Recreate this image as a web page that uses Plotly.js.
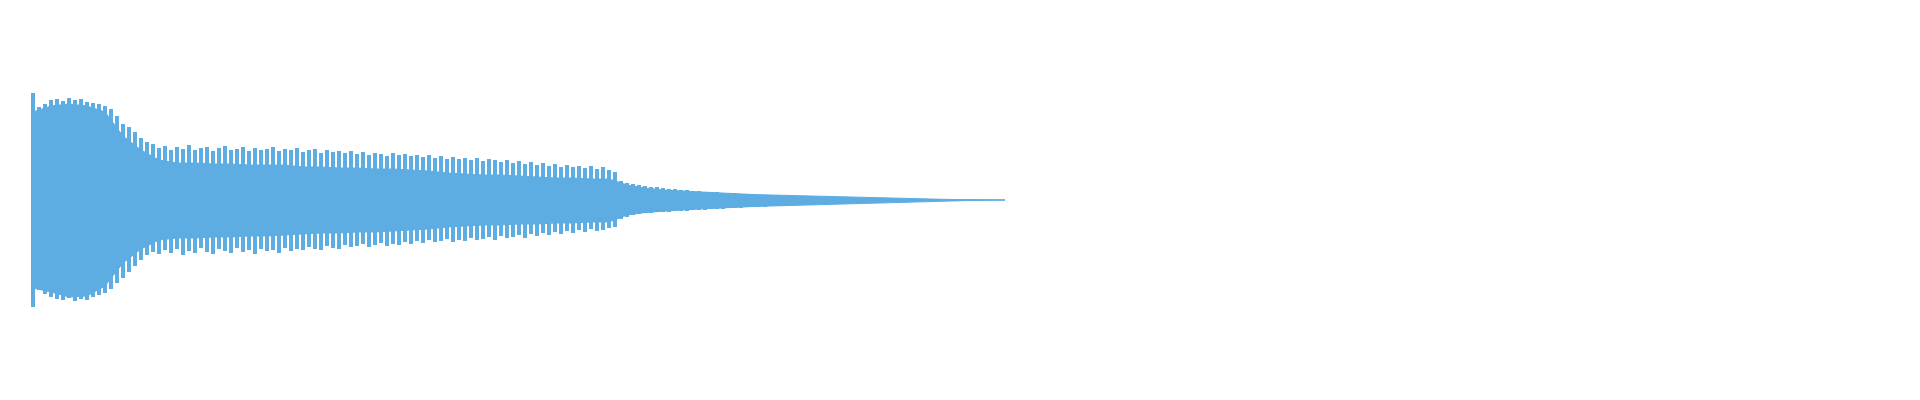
<!DOCTYPE html>
<html>
<head>
<meta charset="utf-8">
<script src="https://cdn.plot.ly/plotly-3.0.1.min.js"></script>
<style>
  html, body { margin: 0; padding: 0; background: #fff; }
  #wave { width: 1920px; height: 400px; }
</style>
</head>
<body>
<div id="wave"></div>
<script>
// ── Waveform data ───────────────────────────────────────────────────
// Peak amplitude per analysis frame (frame index = x).
const peakHi = [
  107, 93, 96, 100, 101, 99, 102, 100, 101, 98,
  97, 96, 94, 91, 84, 76, 73, 68, 62, 58,
  56, 52, 54, 50, 53, 51, 55, 50, 52, 53,
  49, 52, 54, 50, 51, 53, 49, 52, 50, 51,
  53, 49, 51, 50, 52, 48, 50, 51, 47, 50,
  48, 49, 47, 49, 46, 48, 45, 47, 46, 44,
  47, 45, 46, 44, 45, 43, 45, 42, 44, 41,
  43, 41, 42, 40, 42, 39, 41, 40, 38, 40,
  37, 39, 36, 38, 35, 37, 34, 36, 33, 35,
  33, 34, 32, 34, 31, 33, 30, 28, 19, 17,
  16, 15, 14, 13, 13, 12, 11.5, 11, 10.5, 10,
  9.5, 9, 8.5, 8, 8, 7.5, 7, 7, 6.5, 6,
  6, 5.5, 5.5, 5, 5, 4.5, 4.5, 4.2, 4, 3.8,
  3.6, 3.4, 3.2, 3, 2.8, 2.6, 2.5, 2.3, 2.2, 2,
  1.8, 1.7, 1.5, 1.4, 1.3, 1.2, 1.1, 1, 0.9, 0.8,
  0.7, 0.6, 0.5, 0.5, 0.4, 0.4, 0.3, 0.3, 0.3, 0.2,
  0.2, 0.2, 0.2, 0.1
];

const peakLo = [
  -107, -90, -94, -97, -99, -100, -98, -101, -99, -100,
  -97, -95, -93, -89, -83, -78, -72, -66, -60, -55,
  -52, -54, -50, -53, -49, -55, -51, -53, -48, -52,
  -54, -49, -51, -53, -48, -52, -50, -54, -49, -51,
  -50, -53, -48, -51, -49, -50, -47, -49, -50, -46,
  -48, -49, -45, -47, -46, -44, -47, -45, -43, -46,
  -44, -45, -42, -44, -41, -43, -40, -42, -41, -39,
  -42, -40, -41, -38, -40, -39, -37, -40, -36, -38,
  -37, -35, -38, -34, -36, -33, -35, -32, -34, -31,
  -33, -30, -32, -29, -31, -30, -28, -27, -19, -17,
  -15, -14, -13, -13, -12, -12, -11.5, -11, -11, -10.5,
  -10, -10, -9.5, -9, -9, -8.5, -8, -8, -7.5, -7.2,
  -7, -6.7, -6.5, -6.2, -6, -5.7, -5.5, -5.3, -5.1, -4.9,
  -4.7, -4.4, -4.2, -4, -3.8, -3.6, -3.4, -3.2, -3, -2.9,
  -2.7, -2.5, -2.3, -2.1, -2, -1.8, -1.7, -1.5, -1.4, -1.3,
  -1.2, -1.1, -1, -0.9, -0.8, -0.7, -0.6, -0.5, -0.5, -0.4,
  -0.4, -0.3, -0.3, -0.2
];

// RMS-like body of the wave, one value every 3 frames.
const bodyHi = [
  88, 94, 96, 94, 88, 64, 50, 40, 37, 37,
  36, 36, 35, 35, 35, 33, 33, 32, 32, 31,
  31, 30, 29, 27, 26, 25, 25, 24, 23, 22,
  22, 21, 21, 15, 12, 10, 9, 8, 7, 6.5,
  5.5, 5, 4.5, 4, 3.4, 2.8, 2.3, 1.8, 1.4, 1,
  0.7, 0.5, 0.4, 0.3, 0.2
];

const bodyLo = [
  -88, -92, -97, -96, -86, -63, -49, -40, -38, -38,
  -37, -37, -36, -36, -35, -34, -33, -33, -32, -32,
  -31, -30, -29, -27, -26, -25, -25, -24, -24, -23,
  -23, -22, -22, -15, -12.5, -11, -10, -9, -8, -7.5,
  -6.5, -6, -5.5, -5, -4.3, -3.6, -3, -2.5, -2, -1.5,
  -1.1, -0.8, -0.5, -0.3, -0.2
];

const BODY_STEP = 3;  // frames per body value

// ── Style ───────────────────────────────────────────────────────────
const WAVE_COLOR = "#5dade2";

// ── Traces ──────────────────────────────────────────────────────────
const bodyTrace = (vals) => ({
  type: "scatter",
  mode: "lines",
  x0: 0,
  dx: BODY_STEP,
  y: vals,
  fill: "tozeroy",
  fillcolor: WAVE_COLOR,
  line: { color: WAVE_COLOR, width: 1 },
  hoverinfo: "skip",
  showlegend: false,
});

const peakTrace = {
  type: "bar",
  x0: 0,
  dx: 1,
  base: peakLo,
  y: peakHi.map((h, i) => h - peakLo[i]),
  width: 0.7,
  marker: { color: WAVE_COLOR, line: { width: 0 } },
  hoverinfo: "skip",
  showlegend: false,
};

const layout = {
  width: 1920,
  height: 400,
  margin: { t: 0, r: 0, b: 0, l: 0 },
  xaxis: { range: [-5.5, 314.5], visible: false, fixedrange: true },
  yaxis: { range: [-200, 200], visible: false, fixedrange: true },
  plot_bgcolor: "#fff",
  paper_bgcolor: "#fff",
  bargap: 0,
  showlegend: false,
};

Plotly.newPlot("wave", [bodyTrace(bodyHi), bodyTrace(bodyLo), peakTrace], layout,
  { displayModeBar: false, staticPlot: true });
</script>
</body>
</html>
